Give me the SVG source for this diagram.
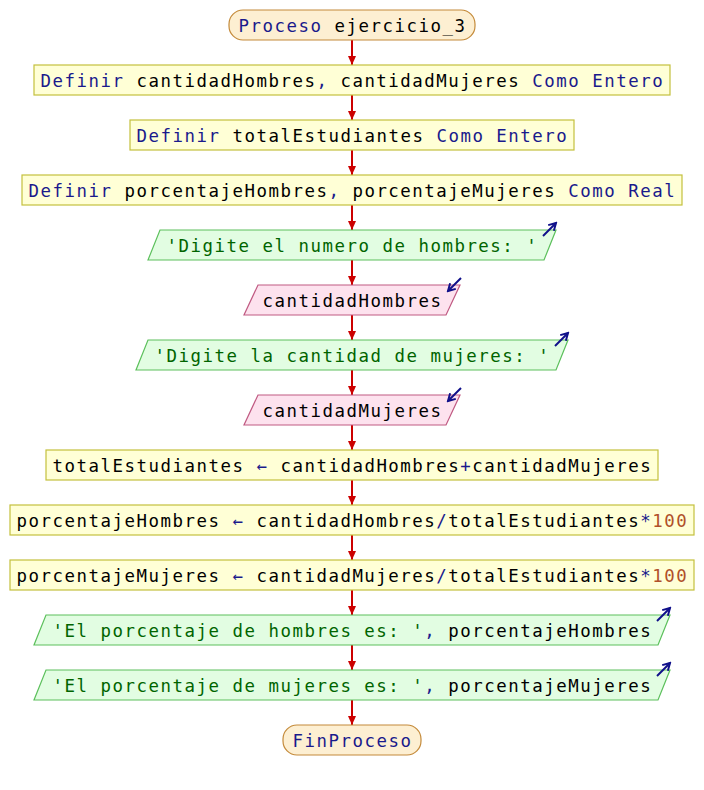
<svg xmlns="http://www.w3.org/2000/svg" width="704" height="790" viewBox="0 0 704 790">
<defs>
<style>
text{font-family:"DejaVu Sans Mono","Liberation Mono",monospace;font-size:17.4px;letter-spacing:1.525px;white-space:pre;fill:#000}
.k{fill:#1a1a8c}.s{fill:#006400}.n{fill:#b0502a}
.term{fill:#fdefd2;stroke:#c48a3a;stroke-width:1.2}
.proc{fill:#ffffd6;stroke:#c4c03c;stroke-width:1.2}
.out{fill:#e2fde2;stroke:#5cc05c;stroke-width:1.2}
.in{fill:#fde2ee;stroke:#c05a82;stroke-width:1.2}
.conn{stroke:#cc0000;stroke-width:2;fill:none}
.io{stroke:#10108a;stroke-width:2;fill:none}
</style>
<marker id="ah" markerUnits="userSpaceOnUse" markerWidth="10" markerHeight="8" refX="9" refY="4" orient="auto">
<path d="M0,0 L9,4 L0,8 z" fill="#cc0000"/>
</marker>
<marker id="io" markerUnits="userSpaceOnUse" markerWidth="10" markerHeight="10" refX="8" refY="5" orient="auto">
<path d="M1,1 L8,5 L1,9" fill="none" stroke="#10108a" stroke-width="2"/>
</marker>
</defs>
<rect width="704" height="790" fill="#fff"/>
<g id="connectors">
<line class="conn" x1="352" y1="40" x2="352" y2="65" marker-end="url(#ah)"/>
<line class="conn" x1="352" y1="95" x2="352" y2="120" marker-end="url(#ah)"/>
<line class="conn" x1="352" y1="150" x2="352" y2="175" marker-end="url(#ah)"/>
<line class="conn" x1="352" y1="205" x2="352" y2="230" marker-end="url(#ah)"/>
<line class="conn" x1="352" y1="260" x2="352" y2="285" marker-end="url(#ah)"/>
<line class="conn" x1="352" y1="315" x2="352" y2="340" marker-end="url(#ah)"/>
<line class="conn" x1="352" y1="370" x2="352" y2="395" marker-end="url(#ah)"/>
<line class="conn" x1="352" y1="425" x2="352" y2="450" marker-end="url(#ah)"/>
<line class="conn" x1="352" y1="480" x2="352" y2="505" marker-end="url(#ah)"/>
<line class="conn" x1="352" y1="535" x2="352" y2="560" marker-end="url(#ah)"/>
<line class="conn" x1="352" y1="590" x2="352" y2="615" marker-end="url(#ah)"/>
<line class="conn" x1="352" y1="645" x2="352" y2="670" marker-end="url(#ah)"/>
<line class="conn" x1="352" y1="700" x2="352" y2="725" marker-end="url(#ah)"/>
</g>
<g id="n0">
<rect class="term" x="229" y="10" width="246" height="30" rx="14"/>
<text x="238.5" y="31.5"><tspan class="k">Proceso</tspan> ejercicio_3</text>
</g>
<g id="n1">
<rect class="proc" x="34" y="65" width="636" height="30"/>
<text x="40.5" y="86.5"><tspan class="k">Definir</tspan> cantidadHombres<tspan class="k">,</tspan> cantidadMujeres <tspan class="k">Como Entero</tspan></text>
</g>
<g id="n2">
<rect class="proc" x="130" y="120" width="444" height="30"/>
<text x="136.5" y="141.5"><tspan class="k">Definir</tspan> totalEstudiantes <tspan class="k">Como Entero</tspan></text>
</g>
<g id="n3">
<rect class="proc" x="22" y="175" width="660" height="30"/>
<text x="28.5" y="196.5"><tspan class="k">Definir</tspan> porcentajeHombres<tspan class="k">,</tspan> porcentajeMujeres <tspan class="k">Como Real</tspan></text>
</g>
<g id="n4">
<polygon class="out" points="160,230 556,230 544,260 148,260"/>
<line class="io" x1="543" y1="236" x2="556" y2="223" marker-end="url(#io)"/>
<text x="166.5" y="251.5" class="s">'Digite el numero de hombres: '</text>
</g>
<g id="n5">
<polygon class="in" points="258,285 460,285 446,315 244,315"/>
<line class="io" x1="461" y1="278" x2="448" y2="291" marker-end="url(#io)"/>
<text x="262.5" y="306.5">cantidadHombres</text>
</g>
<g id="n6">
<polygon class="out" points="148,340 568,340 556,370 136,370"/>
<line class="io" x1="555" y1="346" x2="568" y2="333" marker-end="url(#io)"/>
<text x="154.5" y="361.5" class="s">'Digite la cantidad de mujeres: '</text>
</g>
<g id="n7">
<polygon class="in" points="258,395 460,395 446,425 244,425"/>
<line class="io" x1="461" y1="388" x2="448" y2="401" marker-end="url(#io)"/>
<text x="262.5" y="416.5">cantidadMujeres</text>
</g>
<g id="n8">
<rect class="proc" x="46" y="450" width="612" height="30"/>
<text x="52.5" y="471.5">totalEstudiantes <tspan class="k">←</tspan> cantidadHombres<tspan class="k">+</tspan>cantidadMujeres</text>
</g>
<g id="n9">
<rect class="proc" x="10" y="505" width="684" height="30"/>
<text x="16.5" y="526.5">porcentajeHombres <tspan class="k">←</tspan> cantidadHombres<tspan class="k">/</tspan>totalEstudiantes<tspan class="k">*</tspan><tspan class="n">100</tspan></text>
</g>
<g id="n10">
<rect class="proc" x="10" y="560" width="684" height="30"/>
<text x="16.5" y="581.5">porcentajeMujeres <tspan class="k">←</tspan> cantidadMujeres<tspan class="k">/</tspan>totalEstudiantes<tspan class="k">*</tspan><tspan class="n">100</tspan></text>
</g>
<g id="n11">
<polygon class="out" points="46,615 670,615 658,645 34,645"/>
<line class="io" x1="657" y1="621" x2="670" y2="608" marker-end="url(#io)"/>
<text x="52.5" y="636.5"><tspan class="s">'El porcentaje de hombres es: '</tspan><tspan class="k">,</tspan> porcentajeHombres</text>
</g>
<g id="n12">
<polygon class="out" points="46,670 670,670 658,700 34,700"/>
<line class="io" x1="657" y1="676" x2="670" y2="663" marker-end="url(#io)"/>
<text x="52.5" y="691.5"><tspan class="s">'El porcentaje de mujeres es: '</tspan><tspan class="k">,</tspan> porcentajeMujeres</text>
</g>
<g id="n13">
<rect class="term" x="283" y="725" width="138" height="30" rx="14"/>
<text x="292.5" y="746.5" class="k">FinProceso</text>
</g>
</svg>
